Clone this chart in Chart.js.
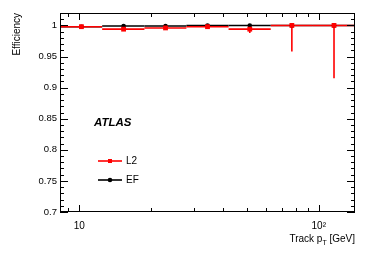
<!DOCTYPE html>
<html>
<head>
<meta charset="utf-8">
<script src="https://cdn.jsdelivr.net/npm/chart.js@4"></script>
<style>
  html, body { margin: 0; padding: 0; background: #fff; }
  #wrap { width: 374px; height: 253px; }
</style>
</head>
<body>
<div id="wrap"><canvas id="effChart" width="374" height="253"></canvas></div>
<script>
// track pT bins [GeV]
const binEdges = [8.3, 12.45, 18.7, 28.0, 42.0, 63.0, 94.5, 141.7];
const ptCenters = [10.2, 15.3, 22.9, 34.3, 51.5, 77.2, 115.8];

// L2 efficiency
const effL2 = [0.998, 0.994, 0.996, 0.998, 0.994, 1.0, 1.0];
const errL2Low = [0.001, 0.002, 0.002, 0.002, 0.006, 0.042, 0.085];
const errL2High = [0.001, 0.001, 0.001, 0.001, 0.002, 0.0, 0.0];

// EF efficiency
const effEF = [0.998, 0.999, 0.999, 1.0, 1.0, 1.0, 1.0];
const errEFLow = [0.001, 0.001, 0.001, 0.001, 0.001, 0.0, 0.0];
const errEFHigh = [0.001, 0.001, 0.001, 0.0, 0.0, 0.0, 0.0];

const yTicks = [0.7, 0.75, 0.8, 0.85, 0.9, 0.95, 1.0];
const yMinor = [0.71,0.72,0.73,0.74,0.76,0.77,0.78,0.79,0.81,0.82,0.83,0.84,0.86,0.87,0.88,0.89,
                0.91,0.92,0.93,0.94,0.96,0.97,0.98,0.99,1.01];
const xTicks = [10, 100];
const xMinor = [9, 20, 30, 40, 50, 60, 70, 80, 90];

const series = [
  { label: 'L2', color: '#ff0000', eff: effL2, lo: errL2Low, hi: errL2High, marker: 'rect' },
  { label: 'EF', color: '#000000', eff: effEF, lo: errEFLow, hi: errEFHigh, marker: 'circle' }
];

const FONT = '"Liberation Sans", Arial, Helvetica, sans-serif';

// horizontal bin bars + vertical error bars, drawn through the chart scales
const binBars = {
  id: 'binBars',
  beforeDatasetsDraw(chart) {
    const ctx = chart.ctx, xs = chart.scales.x, ys = chart.scales.y;
    ctx.save();
    ctx.lineWidth = 1.6;
    [series[1], series[0]].forEach(s => {
      ctx.strokeStyle = s.color;
      s.eff.forEach((v, i) => {
        const y = ys.getPixelForValue(v);
        ctx.beginPath();
        ctx.moveTo(xs.getPixelForValue(binEdges[i]), y);
        ctx.lineTo(xs.getPixelForValue(binEdges[i + 1]), y);
        const xc = xs.getPixelForValue(ptCenters[i]);
        ctx.moveTo(xc, ys.getPixelForValue(v + s.hi[i]));
        ctx.lineTo(xc, ys.getPixelForValue(v - s.lo[i]));
        ctx.stroke();
      });
    });
    ctx.restore();
  }
};

// ROOT-style frame, inward ticks, legend and labels
const rootFrame = {
  id: 'rootFrame',
  afterDraw(chart) {
    const ctx = chart.ctx, xs = chart.scales.x, ys = chart.scales.y;
    const a = chart.chartArea;
    ctx.save();
    ctx.strokeStyle = '#000';
    ctx.lineWidth = 1;
    ctx.strokeRect(a.left + 0.5, a.top + 0.5, a.right - a.left - 1, a.bottom - a.top - 1);
    ctx.beginPath();
    yTicks.concat(yMinor).forEach(v => {
      const len = yTicks.includes(v) ? 8 : 4;
      const y = Math.round(ys.getPixelForValue(v)) + 0.5;
      ctx.moveTo(a.left, y); ctx.lineTo(a.left + len, y);
      ctx.moveTo(a.right, y); ctx.lineTo(a.right - len, y);
    });
    xTicks.concat(xMinor).forEach(v => {
      const len = xTicks.includes(v) ? 7 : 4;
      const x = Math.round(xs.getPixelForValue(v)) + 0.5;
      ctx.moveTo(x, a.bottom); ctx.lineTo(x, a.bottom - len);
      ctx.moveTo(x, a.top); ctx.lineTo(x, a.top + len);
    });
    ctx.stroke();

    // ATLAS label
    ctx.fillStyle = '#000';
    ctx.font = 'italic bold 11.5px ' + FONT;
    ctx.textBaseline = 'middle';
    ctx.textAlign = 'left';
    ctx.fillText('ATLAS', 94, 123);

    // legend
    series.forEach((s, k) => {
      const y = 161 + k * 19;
      ctx.strokeStyle = s.color;
      ctx.fillStyle = s.color;
      ctx.lineWidth = 1.6;
      ctx.beginPath();
      ctx.moveTo(98, y); ctx.lineTo(122, y);
      ctx.stroke();
      ctx.beginPath();
      if (s.marker === 'circle') {
        ctx.arc(110, y, 2.3, 0, Math.PI * 2);
      } else {
        ctx.rect(108, y - 2, 4, 4);
      }
      ctx.fill();
      ctx.fillStyle = '#000';
      ctx.font = '10px ' + FONT;
      ctx.fillText(s.label, 126, y + 0.5);
    });

    // y title
    ctx.save();
    ctx.translate(17, 13);
    ctx.rotate(-Math.PI / 2);
    ctx.textAlign = 'right';
    ctx.textBaseline = 'middle';
    ctx.font = '10px ' + FONT;
    ctx.fillText('Efficiency', 0, 0);
    ctx.restore();

    // x title with subscript
    ctx.textBaseline = 'alphabetic';
    ctx.textAlign = 'left';
    const p1 = 'Track p', p3 = ' [GeV]';
    ctx.font = '7px ' + FONT;
    const wT = ctx.measureText('T').width;
    ctx.font = '10px ' + FONT;
    const w1 = ctx.measureText(p1).width, w3 = ctx.measureText(p3).width;
    const x0 = a.right - (w1 + wT + w3);
    const yb = 242;
    ctx.fillText(p1, x0, yb);
    ctx.font = '7px ' + FONT;
    ctx.fillText('T', x0 + w1, yb + 3);
    ctx.font = '10px ' + FONT;
    ctx.fillText(p3, x0 + w1 + wT, yb);
    ctx.restore();
  }
};

new Chart(document.getElementById('effChart'), {
  type: 'line',
  data: {
    datasets: series.map((s, k) => ({
      label: s.label,
      data: ptCenters.map((x, i) => ({ x: x, y: s.eff[i] })),
      showLine: false,
      order: k,
      borderColor: s.color,
      backgroundColor: s.color,
      pointStyle: s.marker,
      pointRadius: s.marker === 'rect' ? 3.4 : 2.3,
      pointBorderWidth: 0
    }))
  },
  options: {
    responsive: false,
    animation: false,
    layout: { padding: { left: 0, top: 13, right: 19, bottom: 0 } },
    plugins: { legend: { display: false }, tooltip: { enabled: false } },
    scales: {
      x: {
        type: 'logarithmic',
        min: 8.3,
        max: 141.7,
        grid: { display: false, drawTicks: false },
        border: { display: false },
        afterBuildTicks: s => { s.ticks = xTicks.map(v => ({ value: v })); },
        afterFit: s => { s.height = 41; },
        ticks: {
          padding: 8,
          maxRotation: 0,
          autoSkip: false,
          color: '#000',
          font: { family: FONT, size: 10 },
          callback: v => (v === 10 ? '10' : '10\u00b2')
        }
      },
      y: {
        min: 0.7,
        max: 1.02,
        grid: { display: false, drawTicks: false },
        border: { display: false },
        afterBuildTicks: s => { s.ticks = yTicks.map(v => ({ value: v })); },
        afterFit: s => { s.width = 60; },
        ticks: {
          padding: 3,
          autoSkip: false,
          color: '#000',
          font: { family: FONT, size: 9.5 },
          callback: v => String(+v.toFixed(2))
        }
      }
    }
  },
  plugins: [binBars, rootFrame]
});
</script>
</body>
</html>
